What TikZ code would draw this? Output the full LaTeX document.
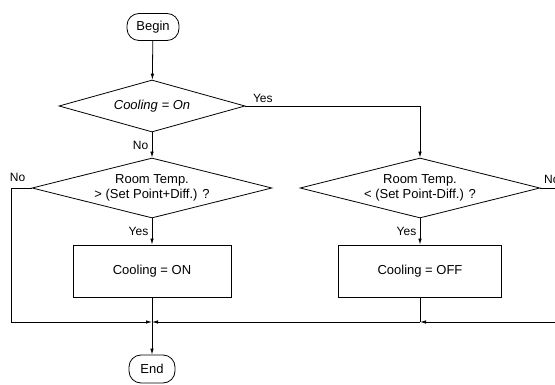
\documentclass[tikz,border=0pt]{standalone}
\usepackage{fontspec}
\setmainfont{Liberation Sans}
\usetikzlibrary{arrows.meta}
\usetikzlibrary{shapes.geometric}
\usetikzlibrary{calc}
\begin{document}
\begin{tikzpicture}[x=1pt,y=-1pt,line width=0.8pt,>={Latex[length=6pt,width=3.5pt]},
    every node/.style={font=\fontsize{13}{15}\selectfont},
    term/.style={draw,rectangle,rounded corners=12pt,minimum width=52pt,minimum height=27pt,inner sep=0pt},
    decide/.style={draw,diamond,aspect=4,inner sep=-3pt,align=center},
    proc/.style={draw,rectangle,minimum width=158pt,minimum height=52pt},
    lbl/.style={font=\fontsize{12}{13}\selectfont}]
\useasboundingbox (0,0) rectangle (555,385);

\node[term] (begin) at (153,27) {Begin};
\node[decide,minimum width=186pt,minimum height=52pt] (cool) at (152,106) {\textit{Cooling = On}};
\node[decide,minimum width=240pt,minimum height=60pt] (hot) at (152,188) {Room Temp.\\> (Set Point+Diff.) ?};
\node[decide,minimum width=240pt,minimum height=60pt] (cold) at (420,188) {Room Temp.\\< (Set Point-Diff.) ?};
\node[proc] (on) at (152,271) {Cooling = ON};
\node[proc,minimum width=163pt] (off) at (420,271) {Cooling = OFF};
\node[term,minimum width=46pt,minimum height=28pt] (end) at (152,369) {End};

\coordinate (join) at (152,322);
\coordinate (offjoin) at (420,322);

\draw[->] (begin) -- (cool);
\draw[->] (cool.south) -- node[lbl,left,pos=0.5] {No} (hot.north);
\draw[->] (cool.east) -- node[lbl,above,pos=0.1] {Yes} (cool.east -| cold.north) -- (cold.north);
\draw[->] (hot.south) -- node[lbl,left] {Yes} (on.north);
\draw[->] (cold.south) -- node[lbl,left] {Yes} (off.north);

\draw[->] (hot.west) -- node[lbl,above,pos=0.7,yshift=3pt] {No} ++(-20,0) |- (join);
\draw[->] (cold.east) -- node[lbl,above right,pos=0.2,xshift=-4pt,yshift=1pt] {No} ++(20,0) |- (offjoin);
\draw (off) -- (offjoin);
\draw[->] (offjoin) -- (join);
\draw[->] (on) -- (end);
\end{tikzpicture}
\end{document}
